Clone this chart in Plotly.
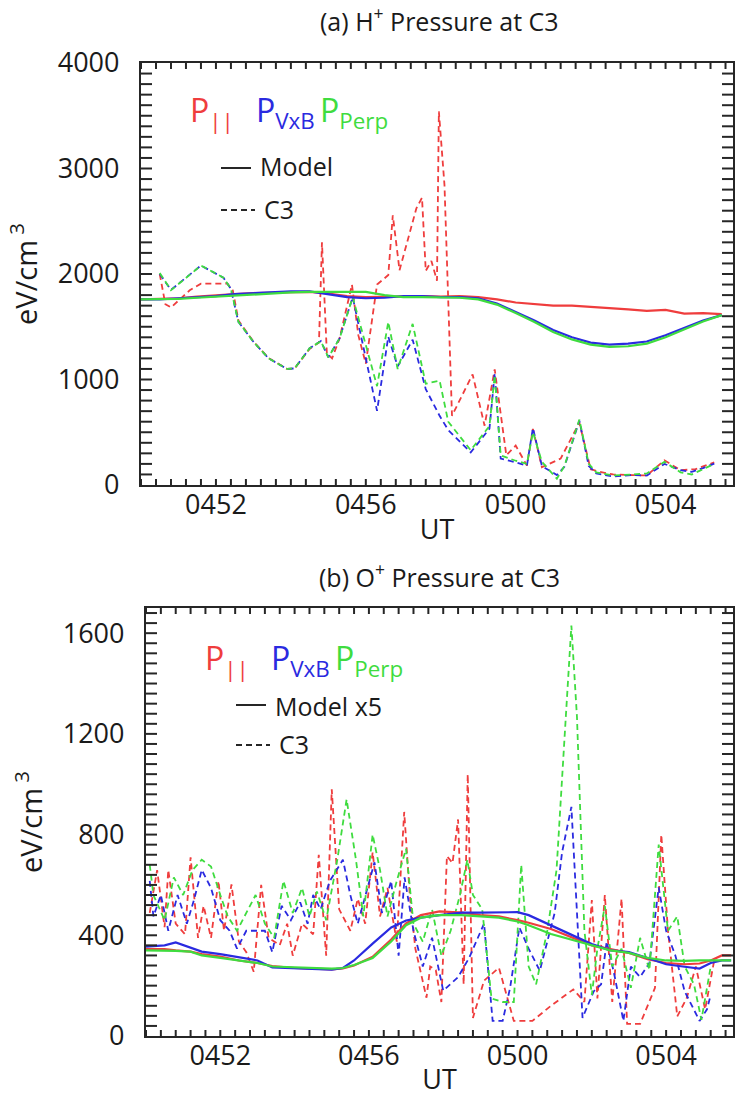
import plotly.graph_objects as go

RED = "#ef3d3d"
BLUE = "#2a2ae0"
GREEN = "#3fdc3f"
INK = "#262626"
FONT = "Open Sans, Lato, sans-serif"

W, H = 737, 1097

# Time axis: decimal minutes after 04:00 UT
ut_ticks = [52, 56, 60, 64]
ut_labels = ["0452", "0456", "0500", "0504"]

# ---------- (a) H+ pressure at C3 (eV/cm^3) ----------
h_ticks = [0, 1000, 2000, 3000, 4000]
h_model_t = [50.0, 50.5, 51.0, 51.5, 52.0, 52.5, 53.0, 53.5, 54.0, 54.5, 55.0, 55.5,
             56.0, 56.5, 57.0, 57.5, 58.0, 58.5, 59.0, 59.5, 60.0, 60.5, 61.0, 61.5,
             62.0, 62.5, 63.0, 63.5, 64.0, 64.5, 65.0, 65.5]
h_model_par = [1760, 1765, 1770, 1785, 1800, 1810, 1820, 1825, 1830, 1830, 1815, 1790,
               1780, 1785, 1790, 1790, 1785, 1790, 1780, 1760, 1730, 1715, 1700, 1700,
               1690, 1680, 1665, 1650, 1660, 1625, 1630, 1620]
h_model_vxb = [1760, 1760, 1770, 1780, 1790, 1810, 1820, 1830, 1835, 1835, 1810, 1780,
               1770, 1775, 1790, 1790, 1780, 1780, 1770, 1720, 1640, 1560, 1470, 1400,
               1350, 1330, 1340, 1360, 1420, 1490, 1560, 1610]
h_model_perp = [1760, 1760, 1765, 1775, 1785, 1800, 1810, 1820, 1825, 1830, 1830, 1830,
                1830, 1800, 1780, 1780, 1780, 1775, 1760, 1710, 1630, 1545, 1450, 1380,
                1330, 1310, 1315, 1340, 1400, 1475, 1550, 1610]

h_c3_par_t = [50.5, 50.65, 50.8, 51.3, 51.6, 52.3, 52.45, 52.6, 53.0, 53.4, 53.9, 54.1,
              54.5, 54.75, 54.83, 54.96, 55.1, 55.3, 55.63, 55.8, 56.0, 56.3, 56.6, 56.72,
              56.9, 57.35, 57.5, 57.6, 57.75, 57.9, 57.95, 58.1, 58.3, 58.85, 59.17, 59.44,
              59.75, 60.0, 60.3, 60.46, 60.7, 61.2, 61.7, 62.0, 62.25, 62.6, 63.1, 63.5,
              63.97, 64.4, 64.8, 65.3]
h_c3_par = [2000, 1714, 1683, 1845, 1908, 1910, 1845, 1560, 1360, 1205, 1100, 1105,
            1290, 1350, 2300, 1250, 1200, 1390, 1900, 1420, 1150, 1900, 1990, 2557,
            2036, 2623, 2723, 2030, 2124, 1937, 3541, 2842, 656, 1049, 562, 1096,
            281, 374, 184, 531, 169, 250, 590, 150, 125, 100, 94, 90,
            234, 140, 150, 215]

h_c3_t = [50.5, 50.8, 51.6, 52.2, 52.4, 52.6, 53.0, 53.4, 53.9, 54.1, 54.5, 54.8,
          55.0, 55.3, 55.65, 56.3, 56.6, 56.85, 57.25, 57.6, 57.97, 58.2, 58.8, 59.3,
          59.44, 59.6, 60.0, 60.3, 60.46, 60.7, 61.1, 61.3, 61.7, 61.95, 62.15, 62.6,
          63.1, 63.5, 63.97, 64.4, 64.7, 65.0, 65.3]
h_c3_vxb = [2000, 1850, 2080, 1965, 1858, 1546, 1358, 1202, 1100, 1105, 1296, 1364,
            1210, 1390, 1780, 703, 1405, 1124, 1377, 909, 656, 521, 309, 534,
            1060, 250, 215, 184, 540, 180, 94, 172, 610, 180, 110, 80,
            94, 90, 200, 140, 125, 160, 203]
h_c3_perp = [2010, 1846, 2080, 1965, 1858, 1546, 1358, 1202, 1100, 1105, 1296, 1364,
             1210, 1390, 1780, 937, 1545, 1100, 1527, 960, 990, 600, 330, 560,
             1040, 280, 230, 200, 500, 220, 60, 180, 620, 200, 120, 90,
             100, 110, 220, 120, 100, 150, 200]

# ---------- (b) O+ pressure at C3 (eV/cm^3) ----------
o_ticks = [0, 400, 800, 1200, 1600]
o_model_t = [50.0, 50.5, 50.8, 51.2, 51.5, 52.0, 52.5, 53.0, 53.4, 54.0, 54.5, 55.0,
             55.3, 55.6, 56.1, 56.6, 57.0, 57.4, 57.9, 58.5, 59.0, 59.5, 60.0, 60.3,
             60.9, 61.5, 62.0, 62.5, 63.0, 63.5, 64.0, 64.5, 64.9, 65.2, 65.5, 65.75]
o_model_par = [345, 345, 340, 335, 325, 315, 300, 290, 278, 270, 268, 265,
               268, 280, 315, 383, 447, 480, 495, 490, 480, 475, 460, 450,
               425, 390, 360, 345, 330, 305, 290, 285, 288, 300, 320, 320]
o_model_vxb = [355, 360, 372, 350, 335, 325, 312, 300, 272, 270, 268, 264,
               270, 300, 367, 431, 459, 470, 480, 490, 490, 490, 492, 480,
               440, 400, 365, 340, 333, 310, 285, 275, 268, 290, 300, 300]
o_model_perp = [340, 340, 338, 335, 320, 310, 300, 290, 276, 272, 270, 268,
                270, 282, 310, 375, 440, 470, 480, 480, 475, 470, 455, 440,
                405, 380, 360, 340, 330, 310, 300, 298, 300, 300, 300, 300]

o_c3_par_t = [50.1, 50.3, 50.5, 50.6, 50.8, 51.05, 51.2, 51.4, 51.55, 51.75, 51.95, 52.1,
              52.3, 52.5, 52.7, 52.9, 53.1, 53.3, 53.6, 53.8, 53.95, 54.2, 54.5, 54.65,
              54.85, 55.0, 55.2, 55.5, 55.7, 55.9, 56.1, 56.3, 56.5, 56.75, 56.95, 57.1,
              57.25, 57.55, 57.65, 57.8, 57.95, 58.1, 58.25, 58.4, 58.55, 58.66, 58.8, 59.1,
              59.5, 59.9, 60.4, 60.9, 61.5, 61.8, 62.0, 62.15, 62.35, 62.55, 62.8, 62.95,
              63.3, 63.7, 63.87, 64.05, 64.3, 64.55, 64.8, 65.05, 65.3]
o_c3_par = [489, 659, 432, 659, 446, 404, 710, 390, 517, 390, 616, 418,
            602, 375, 333, 255, 600, 390, 361, 446, 319, 446, 404, 720,
            319, 980, 503, 418, 545, 446, 730, 475, 588, 375, 890, 560,
            347, 152, 276, 262, 135, 715, 687, 860, 205, 1040, 72, 220,
            271, 60, 60, 120, 185, 135, 540, 149, 560, 135, 545, 48,
            48, 191, 800, 418, 78, 149, 276, 106, 305]

o_c3_vxb_t = [50.1, 50.2, 50.4, 50.6, 50.85, 51.1, 51.3, 51.5, 51.75, 52.0, 52.25, 52.45,
              52.7, 52.95, 53.2, 53.4, 53.65, 53.9, 54.15, 54.35, 54.5, 54.7, 54.95, 55.3,
              55.5, 55.7, 56.0, 56.15, 56.35, 56.6, 56.8, 56.96, 57.2, 57.45, 57.7, 58.0,
              58.4, 58.7, 59.1, 59.33, 59.6, 59.8, 60.05, 60.3, 60.6, 60.8, 61.0, 61.2,
              61.45, 61.75, 62.05, 62.25, 62.4, 62.6, 62.85, 63.05, 63.3, 63.55, 63.8, 64.0,
              64.25, 64.5, 64.9, 65.1, 65.2]
o_c3_vxb = [616, 475, 560, 418, 560, 446, 545, 660, 588, 460, 418, 347,
            418, 418, 418, 333, 517, 460, 531, 446, 560, 503, 616, 700,
            560, 446, 616, 690, 489, 616, 319, 630, 418, 276, 390, 180,
            234, 311, 447, 60, 60, 191, 431, 347, 259, 375, 489, 730,
            910, 72, 177, 205, 375, 248, 60, 276, 234, 290, 590, 418,
            319, 177, 60, 106, 163]

o_c3_perp_t = [50.1, 50.2, 50.5, 50.75, 51.0, 51.25, 51.5, 51.75, 52.0, 52.2, 52.45, 52.7,
               52.95, 53.2, 53.45, 53.7, 53.95, 54.2, 54.4, 54.6, 54.85, 55.15, 55.4, 55.65,
               55.85, 56.1, 56.3, 56.5, 56.75, 57.0, 57.2, 57.45, 57.7, 57.95, 58.2, 58.45,
               58.65, 58.8, 59.05, 59.3, 59.6, 59.9, 60.1, 60.3, 60.5, 60.8, 61.05, 61.3,
               61.45, 61.6, 61.8, 62.0, 62.15, 62.35, 62.55, 62.8, 63.05, 63.3, 63.55, 63.8,
               64.05, 64.3, 64.5, 64.75, 64.95, 65.2]
o_c3_perp = [680, 560, 460, 630, 560, 659, 700, 673, 560, 475, 418, 489,
             560, 446, 390, 616, 489, 588, 475, 574, 460, 701, 940, 701,
             475, 800, 659, 475, 616, 744, 446, 375, 503, 319, 418, 560,
             700, 560, 503, 149, 135, 135, 680, 276, 205, 418, 659, 1268,
             1630, 1268, 418, 163, 347, 517, 276, 347, 191, 390, 262, 760,
             418, 475, 276, 205, 64, 276]


def px(x):
    return x / W


def py(y):
    return 1 - y / H


def steps(start, stop, step):
    n = int(round((stop - start) / step))
    return [round(start + i * step, 3) for i in range(n + 1)]


fig = go.Figure()

# model curves (solid) and spacecraft data (dashed)
panels = [
    ("x", "y", h_model_t, [h_model_par, h_model_vxb, h_model_perp],
     [(h_c3_par_t, h_c3_par), (h_c3_t, h_c3_vxb), (h_c3_t, h_c3_perp)]),
    ("x2", "y2", o_model_t, [o_model_par, o_model_vxb, o_model_perp],
     [(o_c3_par_t, o_c3_par), (o_c3_vxb_t, o_c3_vxb), (o_c3_perp_t, o_c3_perp)]),
]
colors = [RED, BLUE, GREEN]
for xa, ya, mt, models, obs in panels:
    for (ot, ov), col in zip(obs, colors):
        fig.add_trace(go.Scatter(x=ot, y=ov, mode="lines", xaxis=xa, yaxis=ya,
                                 line=dict(color=col, width=1.8, dash="6px,4px"),
                                 showlegend=False, hoverinfo="skip"))
    for mv, col in zip(models, colors):
        fig.add_trace(go.Scatter(x=mt, y=mv, mode="lines", xaxis=xa, yaxis=ya,
                                 line=dict(color=col, width=2.2),
                                 showlegend=False, hoverinfo="skip"))

base = dict(
    showline=True, linecolor=INK, linewidth=2.2, mirror=True,
    ticks="inside", ticklen=1, tickwidth=1, tickcolor="rgba(0,0,0,0)",
    showgrid=False, zeroline=False, automargin=False,
    tickfont=dict(size=27, color="#1a1a1a"),
)


def x_axis(domain, anchor):
    return dict(base, domain=domain, anchor=anchor, range=[50, 65.8],
                tickmode="array", tickvals=ut_ticks, ticktext=ut_labels,
                ticklabelstandoff=-6,
                title=dict(text="UT", font=dict(size=27), standoff=0))


def y_axis(domain, anchor, rng, ticks):
    return dict(base, domain=domain, anchor=anchor, range=rng,
                tickmode="array", tickvals=ticks, ticklabelstandoff=14,
                title=dict(text="eV/cm<sup> 3</sup>", font=dict(size=29), standoff=12))


X1 = (141, 733)
Y1 = (63, 485)
X2 = (146, 733)
Y2 = (608, 1036)

fig.update_layout(
    width=W, height=H,
    margin=dict(l=0, r=0, t=0, b=0, autoexpand=False),
    paper_bgcolor="white", plot_bgcolor="white",
    font=dict(family=FONT, color="#1a1a1a"),
    showlegend=False,
    xaxis=x_axis([px(X1[0]), px(X1[1])], "y"),
    yaxis=y_axis([py(Y1[1]), py(Y1[0])], "x", [0, 4000], h_ticks),
    xaxis2=x_axis([px(X2[0]), px(X2[1])], "y2"),
    yaxis2=y_axis([py(Y2[1]), py(Y2[0])], "x2", [0, 1700], o_ticks),
)


# inward tick marks on all four sides of a panel
def frame_ticks(xa, ya, xpix, ypix, xvals, yvals, ylen, xlen):
    pw = xpix[1] - xpix[0]
    ph = ypix[1] - ypix[0]
    tick = dict(color=INK, width=2)
    out = []
    for v in yvals:
        for a, b in ((0, ylen / pw), (1, 1 - ylen / pw)):
            out.append(dict(type="line", xref=f"{xa} domain", yref=ya, x0=a, x1=b,
                            y0=v, y1=v, line=tick, layer="above"))
    for t in xvals:
        for a, b in ((0, xlen / ph), (1, 1 - xlen / ph)):
            out.append(dict(type="line", xref=xa, yref=f"{ya} domain", x0=t, x1=t,
                            y0=a, y1=b, line=tick, layer="above"))
    return out


shapes = frame_ticks("x", "y", X1, Y1, steps(50, 65.6, 0.4), steps(100, 3900, 100), 11, 6)
shapes += frame_ticks("x2", "y2", X2, Y2, steps(50, 65.6, 0.4), steps(40, 1680, 40), 11, 6)

annotations = [
    dict(x=px(440), y=py(20), text="(a) H<sup>+</sup> Pressure at C3", font=dict(size=25)),
    dict(x=px(440), y=py(575), text="(b) O<sup>+</sup> Pressure at C3", font=dict(size=25)),
]


def key(x0, y_p, y_line, model_label):
    return [
        dict(x=px(x0), y=py(y_p), text="P<sub>||</sub>", font=dict(size=32, color=RED),
             xanchor="left"),
        dict(x=px(x0 + 66), y=py(y_p), text="P<sub>VxB</sub>", font=dict(size=32, color=BLUE),
             xanchor="left"),
        dict(x=px(x0 + 130), y=py(y_p), text="P<sub>Perp</sub>", font=dict(size=32, color=GREEN),
             xanchor="left"),
        dict(x=px(x0 + 70), y=py(y_line[0]), text=model_label, font=dict(size=25),
             xanchor="left"),
        dict(x=px(x0 + 74), y=py(y_line[1]), text="C3", font=dict(size=25), xanchor="left"),
    ]


def key_lines(x0, y_line):
    return [
        dict(type="line", xref="paper", yref="paper", x0=px(x0 + 33), x1=px(x0 + 63),
             y0=py(y_line[0]), y1=py(y_line[0]), line=dict(color=INK, width=2)),
        dict(type="line", xref="paper", yref="paper", x0=px(x0 + 33), x1=px(x0 + 67),
             y0=py(y_line[1]), y1=py(y_line[1]), line=dict(color=INK, width=2, dash="6px,4px")),
    ]


annotations += key(188, 112, (166, 209), "Model")
annotations += key(203, 660, (706, 744), "Model x5")
for a in annotations:
    a.setdefault("xref", "paper")
    a.setdefault("yref", "paper")
    a.setdefault("showarrow", False)
    a.setdefault("yanchor", "middle")
fig.update_layout(annotations=annotations,
                  shapes=shapes + key_lines(188, (168, 210)) + key_lines(203, (705, 745)))

fig.write_html("out.html")
